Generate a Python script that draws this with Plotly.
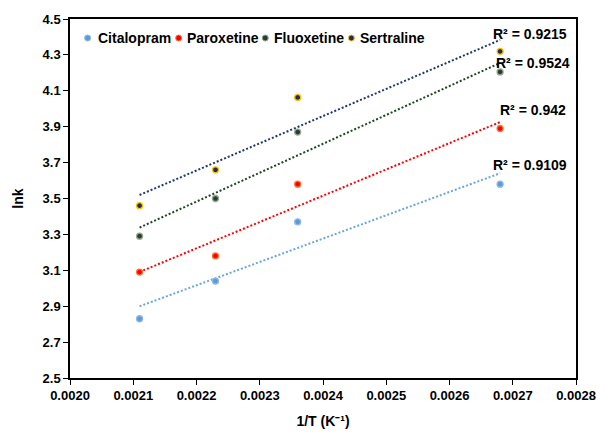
import numpy as np
import plotly.graph_objects as go

# ---- data ----
inv_T = [0.00211, 0.00223, 0.00236, 0.00268]
citalopram = [2.83, 3.04, 3.37, 3.58]
paroxetine = [3.09, 3.18, 3.58, 3.89]
fluoxetine = [3.29, 3.50, 3.87, 4.205]
sertraline = [3.46, 3.66, 4.063, 4.32]
series_names = ["Citalopram", "Paroxetine", "Fluoxetine", "Sertraline"]
r2_labels = ["R² = 0.9109", "R² = 0.942", "R² = 0.9524", "R² = 0.9215"]
x_ticks = [0.0020, 0.0021, 0.0022, 0.0023, 0.0024, 0.0025, 0.0026, 0.0027, 0.0028]
y_ticks = [2.5, 2.7, 2.9, 3.1, 3.3, 3.5, 3.7, 3.9, 4.1, 4.3, 4.5]

series_values = [citalopram, paroxetine, fluoxetine, sertraline]

# ---- styles ----
W, H = 608, 439
L, R, T, B = 70, 21, 19, 52
PW, PH = W - L - R, H - T - B
FONT = "Liberation Sans"

fill_colors = ["#5B9BD5", "#FF0000", "#1E4620", "#1F2F5C"]
edge_colors = ["#8DB8E6", "#F47B3A", "#A0A0A0", "#FFC000"]
line_colors = ["#6AA6DC", "#FF0000", "#1E4620", "#1F3470"]

# legend pixel positions (dot x, text x) and row y
legend_px = [(88, 96.5), (181, 187.5), (269.5, 276.5), (357.5, 364)]
legend_y = 38.5
# R² label centres in pixels
r2_px = [(539.5, 169), (543.5, 112), (543, 64), (540, 34)]


def px_to_paper(px, py):
    return (px - L) / PW, (H - B - py) / PH


fig = go.Figure()

for name, vals, fc, ec, lc in zip(series_names, series_values, fill_colors, edge_colors, line_colors):
    slope, intercept = np.polyfit(inv_T, vals, 1)
    xs = np.array([min(inv_T), max(inv_T)])
    fig.add_trace(go.Scatter(
        x=xs, y=slope * xs + intercept, mode="lines",
        line=dict(color=lc, width=2, dash="2px,2px"),
        showlegend=False, hoverinfo="skip"))
    fig.add_trace(go.Scatter(
        x=inv_T, y=vals, mode="markers", name=name,
        marker=dict(size=6, color=fc, line=dict(color=ec, width=1.3)),
        showlegend=False))

annotations = []
shapes = []
for name, fc, ec, (dx, tx) in zip(series_names, fill_colors, edge_colors, legend_px):
    xd, yd = px_to_paper(dx, legend_y)
    shapes.append(dict(type="circle", xref="paper", yref="paper",
                       xsizemode="pixel", ysizemode="pixel",
                       xanchor=xd, yanchor=yd, x0=-3, x1=3, y0=-3, y1=3,
                       fillcolor=fc, line=dict(color=ec, width=1)))
    xt, yt = px_to_paper(tx, legend_y)
    annotations.append(dict(text=name, xref="paper", yref="paper", x=xt, y=yt,
                            xanchor="left", yanchor="middle", showarrow=False,
                            font=dict(family=FONT, size=14, color="black", weight="bold")))

for lab, (cx, cy) in zip(r2_labels, r2_px):
    xp, yp = px_to_paper(cx, cy)
    annotations.append(dict(text=lab, xref="paper", yref="paper", x=xp, y=yp,
                            xanchor="center", yanchor="middle", showarrow=False,
                            font=dict(family=FONT, size=14, color="black", weight="bold")))

fig.update_layout(
    width=W, height=H,
    margin=dict(l=L, r=R, t=T, b=B),
    paper_bgcolor="white", plot_bgcolor="white",
    font=dict(family=FONT, size=13, color="black", weight="bold"),
    showlegend=False,
    annotations=annotations,
    shapes=shapes,
    xaxis=dict(range=[0.0020, 0.0028], tickvals=x_ticks, tickformat=".4f",
               showgrid=False, zeroline=False, showline=True, mirror=True,
               linecolor="black", linewidth=1.5, ticks="outside", ticklen=5,
               tickcolor="black", tickwidth=1.3,
               tickfont=dict(family=FONT, size=13, color="black", weight="bold"),
               title=dict(text="1/T (K⁻¹)", standoff=14,
                          font=dict(family=FONT, size=14, color="black", weight="bold"))),
    yaxis=dict(range=[2.5, 4.5], tickvals=y_ticks, tickformat=".1f",
               showgrid=False, zeroline=False, showline=True, mirror=True,
               linecolor="black", linewidth=1.5, ticks="outside", ticklen=5,
               tickcolor="black", tickwidth=1.3,
               tickfont=dict(family=FONT, size=13, color="black", weight="bold"),
               title=dict(text="lnk", standoff=16,
                          font=dict(family=FONT, size=14, color="black", weight="bold"))),
)

fig.write_html("out.html",
               config={"displayModeBar": False},
               post_script="document.body.style.margin='0';document.body.style.overflow='hidden';")
